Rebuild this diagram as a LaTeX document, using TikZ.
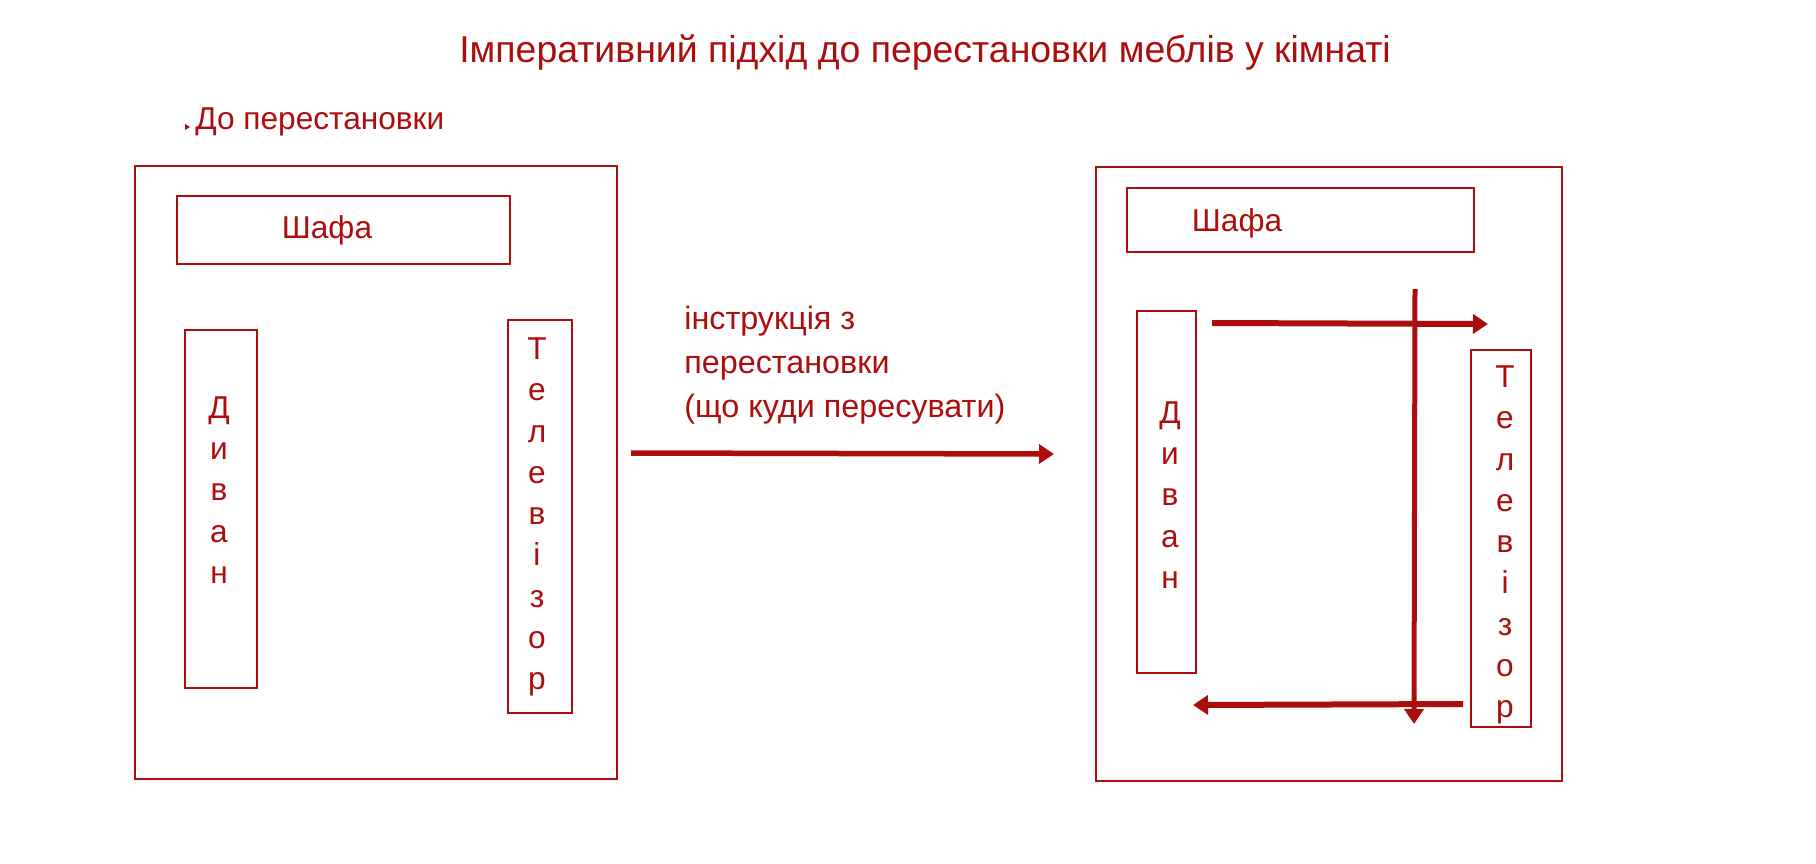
\documentclass[tikz,border=0pt]{standalone}
\usepackage{fontspec}
\setmainfont{Liberation Sans}
\usetikzlibrary{arrows.meta}
\definecolor{furnred}{RGB}{172,14,14}
\tikzset{
  furnbox/.style={draw=furnred, line width=0.04cm},
  furntext/.style={text=furnred, inner sep=0pt, font=\fontsize{18}{23.5}\selectfont},
  letterstack/.style={furntext, align=center},
  movearrow/.style={draw=furnred, line width=0.12cm, -{Triangle[length=0.3cm,width=0.38cm]}}
}
\begin{document}
\begin{tikzpicture}[x=0.02cm, y=-0.02cm]
        \useasboundingbox (0,0) rectangle (1816,863);
        {
        % Title
        \node [furntext, font=\fontsize{21.3}{25}\selectfont] (title) at (925,52) {Імперативний підхід до перестановки меблів у кімнаті};%
        
        % Caption of the left room with its bullet
        \node [furntext, anchor=west] (before) at (195,122) {До перестановки};%
        \fill [furnred] (185,124) -- (190,127) -- (185,130) -- cycle;%
        
        % Left room (before)
        \draw [furnbox] (135,166) rectangle (617,779);%
        \draw [furnbox] (177,196) rectangle (510,264);%
        \node [furntext] (wardrobeL) at (327,230) {Шафа};%
        \draw [furnbox] (185,330) rectangle (257,688);%
        \node [letterstack] (sofaL) at (219,490) {Д\\и\\в\\а\\н};%
        \draw [furnbox] (508,320) rectangle (572,713);%
        \node [letterstack] (tvL) at (537,517) {Т\\е\\л\\е\\в\\і\\з\\о\\р};%
        
        % Instruction between the rooms
        \node [furntext, anchor=west, align=left, font=\fontsize{18.4}{25}\selectfont] (instr) at (684,365) {інструкція з\\перестановки\\(що куди пересувати)};%
        \coordinate (instrA) at (631,453);%
        \coordinate (instrB) at (1054,454);%
        \draw [movearrow, line width=0.11cm] (instrA) -- (instrB);%
        
        % Right room (after)
        \draw [furnbox] (1096,167) rectangle (1562,781);%
        \draw [furnbox] (1127,188) rectangle (1474,252);%
        \node [furntext] (wardrobeR) at (1237,223) {Шафа};%
        \draw [furnbox] (1137,311) rectangle (1196,673);%
        \node [letterstack] (sofaR) at (1170,495) {Д\\и\\в\\а\\н};%
        \draw [furnbox] (1471,350) rectangle (1531,727);%
        \node [letterstack] (tvR) at (1505,545) {Т\\е\\л\\е\\в\\і\\з\\о\\р};%
        
        % Moves of the furniture
        \coordinate (moveA) at (1212,323);%
        \coordinate (moveB) at (1488,324);%
        \coordinate (moveC) at (1415,289);%
        \coordinate (moveD) at (1414,724);%
        \coordinate (moveE) at (1463,704);%
        \coordinate (moveF) at (1193,705);%
        \draw [movearrow] (moveA) -- (moveB);%
        \draw [movearrow, line width=0.1cm] (moveC) -- (moveD);%
        \draw [movearrow] (moveE) -- (moveF);%
        }
    \end{tikzpicture}
\end{document}
